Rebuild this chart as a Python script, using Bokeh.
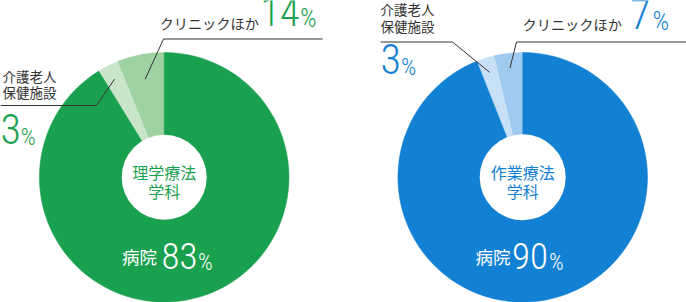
import math
from bokeh.plotting import figure
from bokeh.models import Range1d
from bokeh.core.properties import value
from bokeh.embed import file_html
from bokeh.resources import INLINE

# ---- data ----
categories = ["病院", "介護老人\n保健施設", "クリニックほか"]
left_title = "理学療法\n学科"
right_title = "作業療法\n学科"
# percentages printed on the chart
left_pct = [83, 3, 14]
right_pct = [90, 3, 7]
# slice shares as drawn in the picture
left_share = [91.2, 2.7, 6.1]
right_share = [94.0, 2.3, 3.7]

W, H = 686, 302
JP = value("Noto Sans CJK JP")
NUM = value("Roboto Condensed Light, Roboto Light, Roboto")
DARK = "#333333"
SHIFT_K = 0.46  # compensation for the renderer's baseline placement

def Y(py):
    return H - py

p = figure(width=W, height=H, x_range=Range1d(0, W), y_range=Range1d(0, H),
           output_backend="svg", toolbar_location=None, min_border=0,
           x_axis_location=None, y_axis_location=None,
           outline_line_color=None, background_fill_color="white",
           border_fill_color="white")
p.grid.visible = False


def donut(cx, cy, R, r_in, shares, colors):
    # order around from 12 o'clock, anticlockwise: clinic, nursing, hospital
    order = [2, 1, 0]
    total = sum(shares)
    starts, ends, cols, mids = [], [], [], {}
    a = math.pi / 2
    for i in order:
        span = shares[i] / total * 2 * math.pi
        starts.append(a)
        ends.append(a + span)
        cols.append(colors[i])
        mids[i] = a + span / 2
        a += span
    p.wedge(x=[cx] * 3, y=[Y(cy)] * 3, radius=R, start_angle=starts,
            end_angle=ends, direction="anticlock", fill_color=cols,
            line_color=cols, line_width=0.5)
    p.scatter(x=[cx], y=[Y(cy)], size=2 * r_in, marker="circle",
              fill_color="white", line_color=None)
    return mids


def pt(cx, cy, ang, r):
    return cx + r * math.cos(ang), Y(cy) + r * math.sin(ang)


def txt(x, y, s, size, color, font=JP, align="left", baseline="middle"):
    p.text(x=[x], y=[Y(y)], text=[s], text_font=font,
           text_font_size=f"{size}px", text_color=color, text_align=align,
           text_baseline=baseline)


def pct(xnum, xpct, ybase, v, size, psize, color, align="right"):
    txt(xnum, ybase - SHIFT_K * size, str(v), size, color, font=NUM,
        align=align, baseline="alphabetic")
    txt(xpct, ybase - SHIFT_K * psize, "%", psize, color, font=NUM,
        align="left", baseline="alphabetic")


GREEN = "#1aa150"
BLUE = "#1381d3"

# ---- left donut ----
lcx, lcy = 163.7, 176.8
lm = donut(lcx, lcy, 124.8, 42.5, left_share, [GREEN, "#c9e6cb", "#9fd2a3"])
# leader lines
x0, y0 = pt(lcx, lcy, lm[2], 100)
p.line(x=[x0, 163, 322], y=[y0, Y(38.5), Y(38.5)], line_color=DARK, line_width=1)
x0, y0 = pt(lcx, lcy, lm[1], 110)
p.line(x=[x0, 96, 0], y=[y0, Y(105), Y(105)], line_color=DARK, line_width=1)

# ---- right donut ----
rcx, rcy = 522.2, 176.8
rm = donut(rcx, rcy, 124.8, 43, right_share, [BLUE, "#c8e0f6", "#9fcbf0"])
x0, y0 = pt(rcx, rcy, rm[2], 110)
p.line(x=[x0, 516, 686], y=[y0, Y(41.5), Y(41.5)], line_color=DARK, line_width=1)
x0, y0 = pt(rcx, rcy, rm[1], 110)
p.line(x=[x0, 452, 380], y=[y0, Y(41.5), Y(41.5)], line_color=DARK, line_width=1)

# ---- texts: left ----
t1, t2 = left_title.split("\n")
txt(lcx, 171, t1, 16, GREEN, align="center")
txt(lcx, 190, t2, 16, GREEN, align="center")
txt(159, 22, categories[2], 14.2, DARK)
pct(299, 299.5, 29.5, left_pct[2], 40, 26, GREEN)
n1, n2 = categories[1].split("\n")
txt(2, 75, n1, 13.5, DARK)
txt(2, 91.5, n2, 13.5, DARK)
pct(0, 20, 148, left_pct[1], 42, 24, GREEN, align="left")
txt(121.5, 256, categories[0], 17.5, "white")
pct(197, 197.5, 272.5, left_pct[0], 37, 23, "white")

# ---- texts: right ----
t1, t2 = right_title.split("\n")
txt(rcx, 171, t1, 16, BLUE, align="center")
txt(rcx, 190, t2, 16, BLUE, align="center")
txt(522, 23, categories[2], 14.2, DARK)
pct(650, 652, 32.5, right_pct[2], 42, 26, BLUE)
txt(380, 8.5, n1, 13.5, DARK)
txt(380, 25, n2, 13.5, DARK)
pct(380, 400.5, 78, right_pct[1], 42, 24, BLUE, align="left")
txt(475, 256, categories[0], 17.5, "white")
pct(547.5, 548.5, 272.5, right_pct[0], 37, 23, "white")

open("out.html", "w").write(file_html(p, INLINE))
